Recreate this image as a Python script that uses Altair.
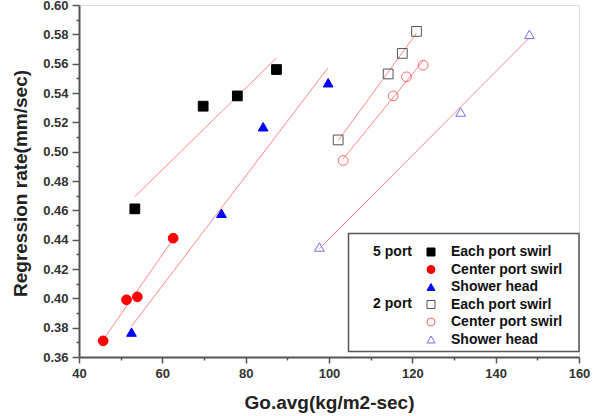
import altair as alt
import pandas as pd

# ---- data ----
series_keys = ["5|Each port swirl", "5|Center port swirl", "5|Shower head",
               "2|Each port swirl", "2|Center port swirl", "2|Shower head"]

x_5_each = [53.4, 69.8, 78.0, 87.4]
y_5_each = [0.461, 0.531, 0.538, 0.556]
x_5_center = [45.8, 51.4, 54.0, 62.6]
y_5_center = [0.371, 0.399, 0.401, 0.441]
x_5_shower = [52.6, 74.2, 84.2, 99.8]
y_5_shower = [0.377, 0.458, 0.517, 0.547]
x_2_each = [102.2, 114.2, 117.6, 121.0]
y_2_each = [0.508, 0.553, 0.567, 0.582]
x_2_center = [103.4, 115.4, 118.6, 122.6]
y_2_center = [0.494, 0.538, 0.551, 0.559]
x_2_shower = [97.7, 131.6, 148.1]
y_2_shower = [0.435, 0.527, 0.580]

group_labels = ["5 port", "2 port"]
group_rows = [0, 3]

x_ticks = list(range(40, 161, 10))
y_ticks = [round(0.36 + 0.01 * i, 2) for i in range(25)]

# ---- build table ----
xs = [x_5_each, x_5_center, x_5_shower, x_2_each, x_2_center, x_2_shower]
ys = [y_5_each, y_5_center, y_5_shower, y_2_each, y_2_center, y_2_shower]
rows = []
for key, sx, sy in zip(series_keys, xs, ys):
    for a, b in zip(sx, sy):
        rows.append({"series": key, "x": a, "y": b})
df = pd.DataFrame(rows)

FONT = "Liberation Sans"
fill_range = ["#000000", "#ff0000", "#0000ff", "transparent", "transparent", "transparent"]
stroke_range = ["#000000", "#ff0000", "#0000ff", "#555555", "#ff6a6a", "#6f6fff"]
shape_range = ["square", "circle", "triangle-up", "square", "circle", "triangle-up"]

xscale = alt.Scale(domain=[40, 160], nice=False, zero=False)
yscale = alt.Scale(domain=[0.36, 0.60], nice=False, zero=False)

x_axis = alt.Axis(
    values=x_ticks,
    labelExpr="datum.value % 20 == 0 ? datum.label : ''",
    tickSize={"condition": {"test": "datum.value % 20 == 0", "value": 6}, "value": 3},
    title="Go.avg(kg/m2-sec)", grid=False, labelFlush=False, labelOverlap=False,
    labelFont=FONT, labelFontSize=13, labelFontWeight="bold", labelColor="#333333",
    labelPadding=4,
    titleFont=FONT, titleFontSize=19, titleFontWeight="bold", titleColor="#222222",
    titlePadding=13,
    domainColor="#555555", domainWidth=2, tickColor="#555555", tickWidth=1.5,
)
y_axis = alt.Axis(
    values=y_ticks, format=".2f",
    labelExpr="(round(datum.value * 100) % 2) < 0.5 ? datum.label : ''",
    tickSize={"condition": {"test": "(round(datum.value * 100) % 2) < 0.5", "value": 7}, "value": 3},
    title="Regression rate(mm/sec)", grid=False, labelFlush=False, labelOverlap=False,
    labelFont=FONT, labelFontSize=13, labelFontWeight="bold", labelColor="#333333",
    labelPadding=4,
    titleFont=FONT, titleFontSize=19, titleFontWeight="bold", titleColor="#222222",
    titlePadding=12, titleY=178,
    domainColor="#555555", domainWidth=2, tickColor="#555555", tickWidth=1.5,
)

base = alt.Chart(df)

lines = base.transform_regression(
    "x", "y", groupby=["series"]
).mark_line(color="#ff8888", strokeWidth=1).encode(
    x=alt.X("x:Q", scale=xscale, axis=x_axis),
    y=alt.Y("y:Q", scale=yscale, axis=y_axis),
    detail="series:N",
)

legend_box = alt.Chart(pd.DataFrame({"a": [0]})).mark_rect(
    fill="white", stroke="#555555", strokeWidth=1.5
).encode(
    x=alt.value(269.5), x2=alt.value(500), y=alt.value(228.5), y2=alt.value(346.5)
)

legend = alt.Legend(
    title=None, orient="none", legendX=345, legendY=240,
    labelExpr="split(datum.label, '|')[1]",
    labelFont=FONT, labelFontSize=14, labelFontWeight="bold", labelColor="#111111",
    symbolSize=64, symbolStrokeWidth=1, rowPadding=3.5, labelOffset=13, padding=0,
)

points = base.mark_point(size=95, strokeWidth=1, opacity=1).encode(
    x=alt.X("x:Q", scale=xscale, axis=x_axis),
    y=alt.Y("y:Q", scale=yscale, axis=y_axis),
    shape=alt.Shape("series:N", scale=alt.Scale(domain=series_keys, range=shape_range), legend=legend),
    fill=alt.Fill("series:N", scale=alt.Scale(domain=series_keys, range=fill_range), legend=legend),
    stroke=alt.Stroke("series:N", scale=alt.Scale(domain=series_keys, range=stroke_range), legend=legend),
)

grp = pd.DataFrame({"g": group_labels, "row": group_rows})
group_text = alt.Chart(grp).transform_calculate(
    py="246.7 + datum.row * 17.5"
).mark_text(
    align="right", baseline="middle", font=FONT, fontSize=14, fontWeight="bold", color="#111111"
).encode(
    text="g:N",
    x=alt.value(333),
    y=alt.Y("py:Q", scale=None, axis=None),
)

chart = alt.layer(lines, legend_box, points, group_text).properties(
    width=500, height=352,
    autosize=alt.AutoSizeParams(type="none"),
    padding={"left": 79, "top": 5, "right": 31, "bottom": 59},
).configure_view(stroke=None).configure(background="white")

chart.save("out.html", embed_options={"renderer": "svg", "actions": False})
